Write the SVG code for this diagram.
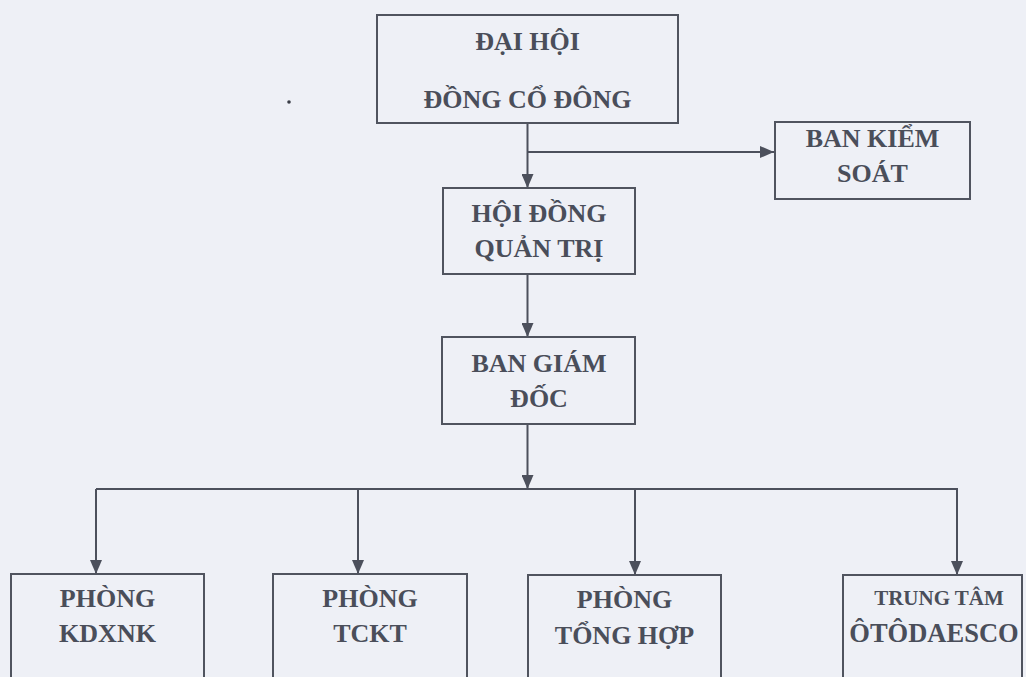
<svg xmlns="http://www.w3.org/2000/svg" width="1026" height="677" viewBox="0 0 1026 677">
<defs>
<marker id="arr" viewBox="0 0 14 12" refX="14" refY="6" markerWidth="14" markerHeight="12" markerUnits="userSpaceOnUse" orient="auto">
<path d="M0,0 L14,6 L0,12 Z" fill="#4c505c"/>
</marker>
<style>
.box{fill:none;stroke:#50545f;stroke-width:2}
text{font-family:'Liberation Serif','Times New Roman',serif;font-weight:bold;font-size:26px;fill:#4a4e5a;text-anchor:middle}
.s{font-size:21px}
.b{font-size:26.5px}
.ln{fill:none;stroke:#4c505c;stroke-width:2}
</style>
</defs>
<rect width="1026" height="677" fill="#eef0f6"/>
<circle cx="289" cy="102" r="1.8" fill="#3a3d46"/>
<g id="connectors">
<line class="ln" x1="527.5" y1="123" x2="527.5" y2="188" marker-end="url(#arr)"/>
<line class="ln" x1="527.5" y1="152" x2="774" y2="152" marker-end="url(#arr)"/>
<line class="ln" x1="527.5" y1="274" x2="527.5" y2="337" marker-end="url(#arr)"/>
<line class="ln" x1="527.5" y1="424" x2="527.5" y2="489" marker-end="url(#arr)"/>
<polyline class="ln" points="96,489 957,489 957,575" marker-end="url(#arr)"/>
<line class="ln" x1="96" y1="489" x2="96" y2="574" marker-end="url(#arr)"/>
<line class="ln" x1="358" y1="489" x2="358" y2="574" marker-end="url(#arr)"/>
<line class="ln" x1="635" y1="489" x2="635" y2="575" marker-end="url(#arr)"/>
</g>
<g id="dhcd">
<rect class="box" x="377" y="15" width="301" height="108"/>
<text x="527.5" y="50">ĐẠI HỘI</text>
<text x="527.5" y="108">ĐỒNG CỔ ĐÔNG</text>
</g>
<g id="bks">
<rect class="box" x="775" y="122" width="195" height="77"/>
<text x="872.5" y="147">BAN KIỂM</text>
<text x="872.5" y="182">SOÁT</text>
</g>
<g id="hdqt">
<rect class="box" x="443" y="188" width="192" height="86"/>
<text x="539" y="222">HỘI ĐỒNG</text>
<text x="539" y="257">QUẢN TRỊ</text>
</g>
<g id="bgd">
<rect class="box" x="442" y="337" width="193" height="87"/>
<text x="539" y="372">BAN GIÁM</text>
<text x="539" y="407">ĐỐC</text>
</g>
<g id="kdxnk">
<rect class="box" x="11" y="574" width="193" height="120"/>
<text x="107.5" y="607">PHÒNG</text>
<text x="107.5" y="642">KDXNK</text>
</g>
<g id="tckt">
<rect class="box" x="273" y="574" width="194" height="120"/>
<text x="370" y="607">PHÒNG</text>
<text x="370" y="642">TCKT</text>
</g>
<g id="tonghop">
<rect class="box" x="528" y="575" width="193" height="120"/>
<text x="624.5" y="608">PHÒNG</text>
<text x="624.5" y="644">TỔNG HỢP</text>
</g>
<g id="trungtam">
<rect class="box" x="843" y="575" width="179" height="120"/>
<text class="s" x="939" y="605">TRUNG TÂM</text>
<text class="b" x="934" y="642">ÔTÔDAESCO</text>
</g>
</svg>
